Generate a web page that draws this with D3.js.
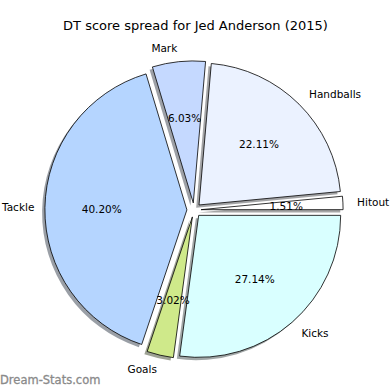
<!DOCTYPE html>
<html>
<head>
<meta charset="utf-8">
<script src="https://cdn.jsdelivr.net/npm/d3@7"></script>
<style>
  body { margin: 0; background: #fff; }
  text { font-family: "DejaVu Sans", sans-serif; }
</style>
</head>
<body>
<script>
// Chart data
var categories = ["Hitout", "Handballs", "Mark", "Tackle", "Goals", "Kicks"];
var values = [1.51, 22.11, 6.03, 40.20, 3.02, 27.14];
var colors = ["#ffffff", "#ebf2ff", "#c5d9ff", "#b5d5ff", "#cfe98a", "#d9ffff"];

var svgWidth = 390;
var svgHeight = 390;
var cx = 194, cy = 210;
var radius = 142;
var explode = 0.05 * radius;

var svg = d3.select("body")
  .append("svg")
  .attr("width", svgWidth)
  .attr("height", svgHeight);

// title
svg.append("text")
  .attr("x", 195.5)
  .attr("y", 25)
  .attr("text-anchor", "middle")
  .attr("dominant-baseline", "central")
  .attr("font-size", "13px")
  .text("DT score spread for Jed Anderson (2015)");

// pie starts at east and goes counterclockwise, like matplotlib
var pie = d3.pie()
  .sort(null)
  .startAngle(Math.PI / 2)
  .endAngle(Math.PI / 2 - 2 * Math.PI);

var arcs = pie(values);
var arc = d3.arc().innerRadius(0).outerRadius(radius);

arcs.forEach(function(d, i) {
  var mid = (d.startAngle + d.endAngle) / 2;
  d.dx = Math.sin(mid) * explode;
  d.dy = -Math.cos(mid) * explode;
  d.mid = mid;
  d.i = i;
});

var chartGroup = svg.append("g")
  .attr("transform", `translate(${cx}, ${cy})`);

// shadows first
chartGroup.selectAll(".shadow").data(arcs).enter()
  .append("path")
  .attr("class", "shadow")
  .attr("d", arc)
  .attr("transform", d => `translate(${d.dx - 2.8}, ${d.dy + 2.8})`)
  .attr("fill", d => {
    var c = d3.rgb(colors[d.i]);
    return d3.rgb(c.r * 0.3, c.g * 0.3, c.b * 0.3);
  })
  .attr("opacity", 0.5);

// wedges
chartGroup.selectAll(".wedge").data(arcs).enter()
  .append("path")
  .attr("class", "wedge")
  .attr("d", arc)
  .attr("transform", d => `translate(${d.dx}, ${d.dy})`)
  .attr("fill", d => colors[d.i])
  .attr("stroke", "#000")
  .attr("stroke-width", 0.8)
  .attr("stroke-linejoin", "round");

// labels
var labels = chartGroup.selectAll(".label").data(arcs).enter()
  .append("text")
  .attr("class", "label")
  .attr("x", d => d.dx + Math.sin(d.mid) * radius * 1.1)
  .attr("y", d => d.dy - Math.cos(d.mid) * radius * 1.1)
  .attr("text-anchor", d => Math.sin(d.mid) < 0 ? "end" : "start")
  .attr("dominant-baseline", "central")
  .attr("font-size", "10.5px")
  .text(d => categories[d.i]);

// keep labels inside the page
labels.each(function() {
  var b = this.getBBox();
  var left = cx + b.x;
  if (left < 1) {
    var t = d3.select(this);
    t.attr("x", +t.attr("x") + (1 - left));
  }
});

// percentages
chartGroup.selectAll(".pct").data(arcs).enter()
  .append("text")
  .attr("class", "pct")
  .attr("x", d => d.dx + Math.sin(d.mid) * radius * 0.6)
  .attr("y", d => d.dy - Math.cos(d.mid) * radius * 0.6)
  .attr("text-anchor", "middle")
  .attr("dominant-baseline", "central")
  .attr("font-size", "10.5px")
  .text(d => values[d.i].toFixed(2) + "%");

// watermark
svg.append("text")
  .attr("x", 0)
  .attr("y", 380)
  .attr("dominant-baseline", "central")
  .attr("font-size", "11.5px")
  .attr("fill", "#8a8a8a")
  .attr("stroke", "#8a8a8a")
  .attr("stroke-width", 0.3)
  .text("Dream-Stats.com");
</script>
</body>
</html>
